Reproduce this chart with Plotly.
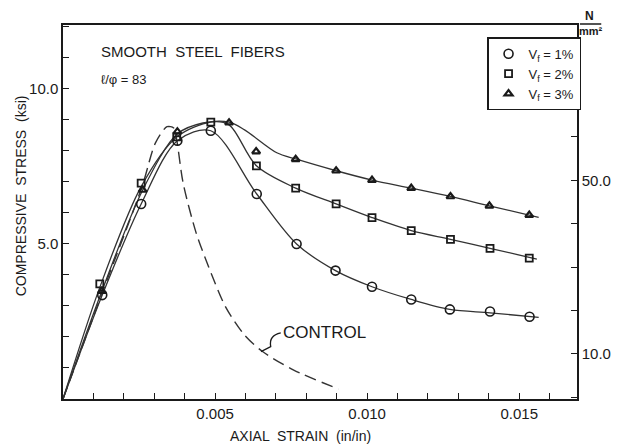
import plotly.graph_objects as go

# ---------------- data (strain in in/in, stress in ksi) ----------------
# measured points
vf1_strain = [0.00129, 0.00257, 0.00376, 0.00486, 0.00637, 0.00768, 0.00896, 0.01016, 0.01145, 0.01272, 0.01404, 0.01534]
vf1_stress = [3.35, 6.29, 8.33, 8.65, 6.61, 5.00, 4.14, 3.62, 3.21, 2.89, 2.82, 2.65]

vf2_strain = [0.00121, 0.00257, 0.00374, 0.00486, 0.00636, 0.00765, 0.00898, 0.01016, 0.01145, 0.01274, 0.01404, 0.01533]
vf2_stress = [3.71, 6.96, 8.45, 8.93, 7.52, 6.80, 6.29, 5.85, 5.43, 5.15, 4.86, 4.54]

vf3_strain = [0.00128, 0.00262, 0.00376, 0.00546, 0.00635, 0.00765, 0.00898, 0.01016, 0.01145, 0.01274, 0.01402, 0.01533]
vf3_stress = [3.48, 6.74, 8.62, 8.91, 7.98, 7.73, 7.36, 7.06, 6.80, 6.53, 6.23, 5.93]

# fitted curves (nodes)
c1_strain = [0.0, 0.00129, 0.00257, 0.00376, 0.00486, 0.00637, 0.00768, 0.00896, 0.01016, 0.01145, 0.01272, 0.01404, 0.01564]
c1_stress = [0.0, 3.35, 6.29, 8.33, 8.65, 6.61, 5.00, 4.14, 3.62, 3.21, 2.89, 2.78, 2.63]

c2_strain = [0.0, 0.00121, 0.00257, 0.00374, 0.00486, 0.00546, 0.00636, 0.00765, 0.00898, 0.01016, 0.01145, 0.01274, 0.01404, 0.01558]
c2_stress = [0.0, 3.60, 6.85, 8.45, 8.93, 8.84, 7.52, 6.80, 6.29, 5.85, 5.43, 5.15, 4.86, 4.51]

c3_strain = [0.0, 0.00128, 0.00262, 0.00376, 0.00460, 0.00546, 0.00597, 0.00703, 0.00765, 0.00898, 0.01016, 0.01145, 0.01274, 0.01402, 0.01564]
c3_stress = [0.0, 3.48, 6.74, 8.55, 8.90, 8.93, 8.68, 7.94, 7.74, 7.36, 7.06, 6.80, 6.53, 6.23, 5.86]

ctrl_strain = [0.0, 0.00130, 0.00260, 0.00304, 0.00342, 0.00364, 0.00374, 0.00395, 0.00438, 0.00479, 0.00534, 0.00597, 0.00656, 0.00757, 0.00906]
ctrl_stress = [0.0, 3.45, 6.85, 8.26, 8.78, 8.74, 8.35, 6.96, 5.35, 4.26, 2.98, 2.06, 1.53, 0.94, 0.32]

labels = ["V<sub>f</sub> = 1%", "V<sub>f</sub> = 2%", "V<sub>f</sub> = 3%"]
x_ticks = [0.005, 0.010, 0.015]
y_ticks = [5.0, 10.0]
y2_ticks = [10.0, 50.0]

FONT = "Liberation Sans, Arial, sans-serif"
INK = "#1a1a1a"

fig = go.Figure()

curve_style = dict(color="#333333", width=1.3, shape="spline", smoothing=0.9)
for xs, ys in [(c1_strain, c1_stress), (c2_strain, c2_stress), (c3_strain, c3_stress)]:
    fig.add_trace(go.Scatter(x=xs, y=ys, mode="lines", line=curve_style, showlegend=False, hoverinfo="skip"))

fig.add_trace(go.Scatter(x=ctrl_strain, y=ctrl_stress, mode="lines",
                         line=dict(color="#333333", width=1.4, dash="12px,6px", shape="spline", smoothing=0.8),
                         showlegend=False, hoverinfo="skip"))

fig.add_trace(go.Scatter(x=vf1_strain, y=vf1_stress, mode="markers", name=labels[0],
                         marker=dict(symbol="circle-open", size=9, color=INK, line=dict(width=1.6, color=INK))))
fig.add_trace(go.Scatter(x=vf2_strain, y=vf2_stress, mode="markers", name=labels[1],
                         marker=dict(symbol="square-open", size=7, color=INK, line=dict(width=1.8, color=INK))))
fig.add_trace(go.Scatter(x=vf3_strain, y=vf3_stress, mode="markers", name=labels[2],
                         marker=dict(symbol="triangle-up-open", size=7, color=INK, line=dict(width=2.2, color=INK))))

# invisible trace to activate the right axis
fig.add_trace(go.Scatter(x=[None], y=[None], yaxis="y2", showlegend=False, hoverinfo="skip"))

fig.update_layout(
    width=623, height=445,
    margin=dict(l=63, r=30, t=25, b=46),
    paper_bgcolor="white", plot_bgcolor="white",
    font=dict(family=FONT, size=15, color=INK),
    xaxis=dict(range=[0, 0.0169], showgrid=False, zeroline=False,
               showline=True, linecolor=INK, linewidth=1.5, mirror=True,
               tickmode="array", tickvals=x_ticks, ticktext=[f"{v:.3f}" for v in x_ticks],
               ticks="inside", ticklen=6, tickcolor=INK,
               minor=dict(tickmode="linear", tick0=0, dtick=0.001, ticks="inside", ticklen=6, tickcolor=INK),
               tickfont=dict(size=15)),
    yaxis=dict(range=[0, 12.06], showgrid=False, zeroline=False,
               showline=True, linecolor=INK, linewidth=1.5,
               tickmode="array", tickvals=y_ticks, ticktext=[f"{v:.1f}" for v in y_ticks],
               ticks="inside", ticklen=6, tickcolor=INK,
               minor=dict(tickmode="linear", tick0=0, dtick=1, ticks="inside", ticklen=6, tickcolor=INK),
               tickfont=dict(size=15)),
    yaxis2=dict(range=[-0.37, 85.76], overlaying="y", side="right", showgrid=False, zeroline=False,
                showline=True, linecolor=INK, linewidth=1.5,
                tickmode="array", tickvals=y2_ticks, ticktext=[f"{v:.1f}" for v in y2_ticks],
                ticks="inside", ticklen=6, tickcolor=INK,
                minor=dict(tickmode="linear", tick0=0, dtick=10, ticks="inside", ticklen=6, tickcolor=INK),
                tickfont=dict(size=15)),
    legend=dict(x=0.825, y=0.967, xanchor="left", yanchor="top",
                bordercolor=INK, borderwidth=1.5, bgcolor="white",
                font=dict(size=13), itemwidth=30, tracegroupgap=0),
    showlegend=True,
)

# chart texts
fig.add_annotation(xref="paper", yref="paper", x=0.07, y=0.928, xanchor="left", yanchor="middle",
                   text="SMOOTH  STEEL  FIBERS", showarrow=False, font=dict(size=15))
fig.add_annotation(xref="paper", yref="paper", x=0.07, y=0.853, xanchor="left", yanchor="middle",
                   text="ℓ/φ = 83", showarrow=False, font=dict(size=13))
fig.add_annotation(xref="paper", yref="paper", x=(308 - 63) / 530, y=(399 - 436) / 374,
                   xanchor="center", yanchor="middle",
                   text="AXIAL  STRAIN  (in/in)", showarrow=False, font=dict(size=14))
fig.add_annotation(xref="paper", yref="paper", x=(20 - 63) / 530, y=(399 - 196) / 374,
                   xanchor="center", yanchor="middle", textangle=-90,
                   text="COMPRESSIVE  STRESS  (ksi)", showarrow=False, font=dict(size=14))
fig.add_annotation(xref="paper", yref="paper", x=(606 - 63) / 530, y=(399 - 16) / 374,
                   xanchor="center", yanchor="middle", text="<b>N</b>", showarrow=False, font=dict(size=12))
fig.add_annotation(xref="paper", yref="paper", x=(607 - 63) / 530, y=(399 - 31) / 374,
                   xanchor="center", yanchor="middle", text="<b>mm²</b>", showarrow=False, font=dict(size=11))
fig.add_shape(type="line", xref="paper", yref="paper",
              x0=(596 - 63) / 530, x1=(618 - 63) / 530, y0=(399 - 24) / 374, y1=(399 - 24) / 374,
              line=dict(color=INK, width=1.5))

# CONTROL label with brace-like leader
fig.add_annotation(x=0.00716, y=2.16, xanchor="left", yanchor="middle", text="CONTROL",
                   showarrow=False, font=dict(size=17))
fig.add_shape(type="path", xref="x", yref="y",
              path="M 0.00651,1.53 L 0.00683,1.69 Q 0.00676,2.05 0.00716,2.13",
              line=dict(color=INK, width=1.3))

fig.write_html("out.html")
